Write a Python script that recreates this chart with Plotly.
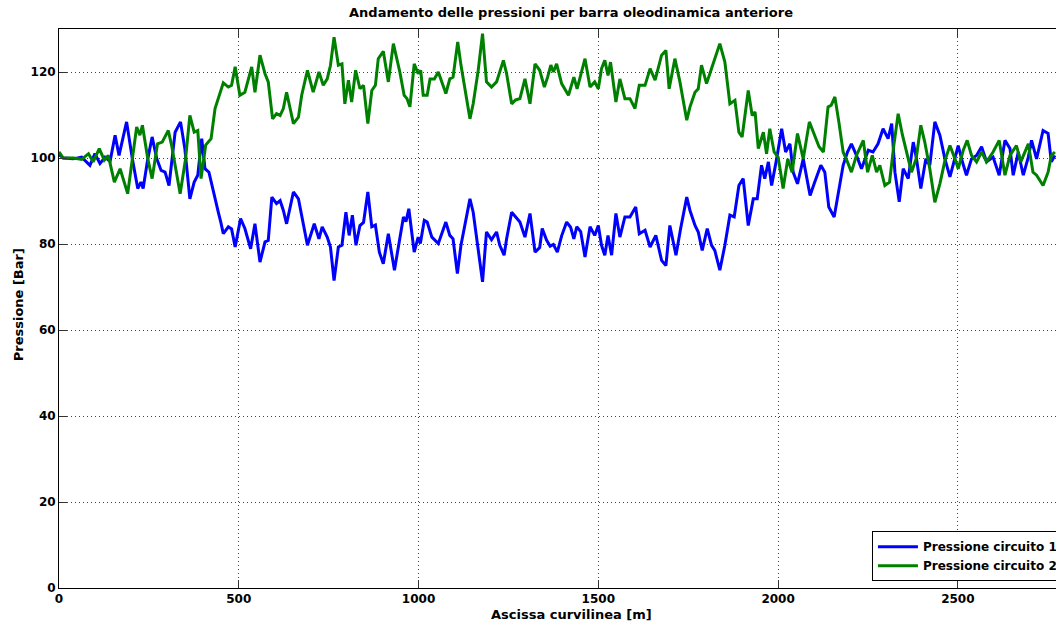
import plotly.graph_objects as go

# Ascissa curvilinea [m] and pressure [Bar] samples, circuit 1
dist_c1 = [0, 12, 40, 63, 86, 100, 114, 128, 142, 156, 167, 188, 204, 219, 228, 234, 247, 259, 272, 284,
           295, 306, 323, 338, 350, 364, 376, 386, 397, 406, 417, 429, 443, 450, 457, 471, 480, 490, 505, 517,
           533, 545, 559, 573, 582, 592, 605, 615, 624, 633, 652, 666, 675, 691, 710, 723, 732, 746, 755, 765,
           777, 787, 798, 807, 816, 826, 837, 847, 859, 870, 880, 891, 902, 916, 933, 945, 958, 965, 973, 981,
           988, 999, 1005, 1016, 1024, 1037, 1055, 1076, 1087, 1096, 1108, 1118, 1129, 1143, 1152, 1166, 1178, 1189, 1203, 1217,
           1226, 1238, 1245, 1259, 1270, 1282, 1296, 1310, 1324, 1337, 1344, 1356, 1366, 1375, 1386, 1398, 1412, 1423, 1432, 1440,
           1451, 1463, 1477, 1490, 1500, 1509, 1518, 1527, 1537, 1549, 1560, 1574, 1588, 1604, 1614, 1630, 1644, 1660, 1676, 1688,
           1699, 1716, 1729, 1746, 1755, 1769, 1778, 1789, 1803, 1815, 1824, 1838, 1852, 1866, 1878, 1891, 1903, 1917, 1931, 1942,
           1954, 1963, 1973, 1982, 1996, 2010, 2021, 2033, 2042, 2054, 2070, 2089, 2102, 2119, 2130, 2141, 2156, 2167, 2181, 2193,
           2204, 2218, 2232, 2251, 2264, 2278, 2292, 2306, 2316, 2325, 2337, 2348, 2362, 2376, 2385, 2397, 2411, 2422, 2436, 2450,
           2464, 2478, 2492, 2501, 2513, 2524, 2538, 2552, 2566, 2580, 2598, 2615, 2631, 2645, 2654, 2668, 2682, 2696, 2705, 2719,
           2737, 2751, 2760, 2770]
press_c1 = [100.8, 100, 99.8, 100.2, 98.3, 101, 98.7, 100.2, 99.2, 105.3, 100.6, 108.4, 99.8, 92.9, 94.4, 92.9, 99.8, 104.9, 99.8, 97.1,
            96.7, 93.6, 106, 108.4, 102.2, 90.5, 94.4, 96, 104.5, 97.5, 96.7, 92.1, 87.4, 85.1, 82.4, 84, 83.5, 79.3, 85.9, 83.6,
            78.9, 84.7, 75.8, 80.5, 80.8, 90.9, 89.4, 90.1, 87.8, 84.7, 92.1, 90.5, 86.3, 79.7, 84.7, 81.2, 84, 81.6, 79.3, 71.5,
            79.3, 79.7, 87.4, 82, 86.7, 79.7, 84.3, 85, 92.1, 84, 84.4, 78.1, 75.4, 82.4, 73.9, 79.5, 86.3, 85.2, 88.2, 82.8,
            78.1, 81.6, 80.1, 85.5, 85.1, 81.6, 80.1, 85.1, 82, 81.2, 73.1, 79.7, 84.3, 90.5, 87.4, 78.1, 71.2, 82.8, 81, 82.8,
            79.7, 77.4, 81.2, 87.4, 86.3, 85.1, 81.6, 87.1, 78.1, 79.2, 83.6, 80.9, 79.5, 79.9, 78.1, 81.9, 85.1, 83.9, 81.2, 84,
            82.9, 77, 84, 82, 84.3, 79.7, 77.4, 82, 77.4, 87.1, 81.6, 86.3, 86.3, 88.6, 82.4, 83.2, 79.3, 82, 76.2, 75,
            84.3, 77.4, 83.6, 90.9, 87.8, 84.3, 82.8, 78.5, 83.6, 79.7, 78.5, 73.9, 79.7, 86.7, 86.3, 93.6, 95.2, 84.3, 90.5, 90.5,
            98.3, 95.2, 99.1, 93.6, 99.8, 106.8, 101.4, 103.3, 96.7, 94, 99.8, 91.3, 94.4, 98.3, 96.7, 88.6, 86.3, 91.3, 98.3, 101.4,
            103.3, 100.6, 97.5, 101.8, 101.4, 103.3, 106.8, 104.5, 108, 96.7, 89.8, 97.5, 95.2, 103.7, 99.8, 92.9, 99.8, 98.3, 108.4, 105.3,
            99.8, 95.6, 99.8, 102.9, 99, 96, 99.8, 100.6, 102.6, 99.1, 100.2, 96, 104.1, 102.2, 96, 101.4, 96, 100.2, 104.1, 99.8,
            106.4, 105.7, 99.1, 100.6]

# Ascissa curvilinea [m] and pressure [Bar] samples, circuit 2
dist_c2 = [0, 12, 40, 63, 82, 95, 112, 126, 137, 154, 170, 191, 204, 216, 225, 232, 247, 259, 274, 287,
           304, 313, 337, 352, 364, 376, 386, 395, 408, 423, 434, 445, 457, 471, 480, 490, 503, 517, 536, 545,
           559, 573, 582, 594, 605, 615, 624, 633, 652, 666, 675, 691, 707, 723, 735, 746, 755, 765, 777, 787,
           795, 805, 814, 825, 837, 847, 859, 870, 880, 888, 902, 916, 930, 948, 960, 968, 976, 988, 999, 1006,
           1013, 1024, 1032, 1044, 1055, 1076, 1087, 1096, 1109, 1118, 1131, 1143, 1152, 1166, 1178, 1189, 1203, 1217, 1236, 1245,
           1259, 1270, 1282, 1296, 1310, 1324, 1337, 1350, 1359, 1368, 1375, 1384, 1398, 1417, 1432, 1441, 1463, 1477, 1490, 1500,
           1509, 1518, 1527, 1534, 1549, 1560, 1574, 1588, 1602, 1614, 1630, 1644, 1658, 1676, 1688, 1697, 1713, 1727, 1746, 1755,
           1769, 1778, 1787, 1801, 1815, 1824, 1838, 1852, 1866, 1880, 1891, 1900, 1917, 1928, 1936, 1945, 1959, 1968, 1977, 1989,
           2000, 2007, 2014, 2027, 2039, 2054, 2070, 2087, 2100, 2114, 2126, 2139, 2148, 2158, 2169, 2181, 2193, 2204, 2218, 2237,
           2249, 2262, 2274, 2283, 2297, 2310, 2322, 2334, 2346, 2358, 2371, 2384, 2397, 2408, 2422, 2436, 2450, 2464, 2478, 2492,
           2501, 2515, 2526, 2538, 2552, 2566, 2580, 2598, 2615, 2631, 2645, 2663, 2675, 2696, 2709, 2719, 2737, 2751, 2760, 2770]
press_c2 = [101.4, 100, 100, 99.7, 101, 99.1, 102.2, 99.5, 100.6, 94.4, 97.5, 91.7, 99.8, 107.2, 105.3, 107.6, 99.8, 95.2, 103.3, 103.7,
            106.4, 103, 91.7, 99.8, 109.9, 106, 106.4, 95.2, 103, 104.5, 111.5, 114.6, 117.5, 116.5, 116.9, 121.2, 114.6, 115.3, 121.2, 115.3,
            123.9, 119.6, 117.7, 109.1, 110.3, 109.9, 111.5, 115.3, 108, 109.5, 114.6, 120.4, 115.3, 120, 116.9, 118.4, 121.5, 128.1, 121.6, 121.9,
            112.6, 118.1, 113, 120.4, 116.1, 116.9, 108, 115.7, 116.9, 123.1, 124.8, 117.7, 126.6, 120, 114.6, 113.8, 111.9, 121.9, 119.6, 120.4,
            114.6, 114.6, 118.4, 118.4, 120, 115, 118.4, 118.8, 127, 121.6, 115.3, 109.1, 112.6, 120.4, 128.9, 117.7, 116.5, 117.7, 122.7, 119.6,
            112.6, 113.5, 113.8, 118.4, 112.6, 121.9, 120.4, 116.5, 118.8, 121.6, 120, 121.9, 117.3, 114.6, 118.8, 116.1, 123.1, 116.5, 117.7, 116.1,
            120.8, 122.7, 119.2, 122.3, 113, 118.4, 113.8, 113.8, 111.5, 116.9, 116.9, 120.8, 118.1, 123.9, 125, 116.1, 123.1, 117.7, 108.8, 111.9,
            115.3, 116.1, 121.6, 117.3, 120.8, 123.1, 126.6, 122.3, 112.6, 113.4, 106, 104.9, 115.7, 109.9, 110.7, 102.2, 106, 101, 106.8, 101.4,
            100.2, 96.7, 92.9, 99.8, 96.7, 105.7, 99.8, 108.4, 105.7, 102.6, 101.4, 111.9, 112.3, 114.2, 108.4, 101.4, 99.1, 96.7, 100.6, 104.1,
            96.7, 100.6, 96.7, 98.3, 93.6, 94.4, 103, 110.3, 105.3, 101.4, 96.7, 99.8, 107.6, 103.7, 97.5, 89.7, 94, 99.4, 102.9, 99.8,
            97.5, 101.8, 104.1, 100.6, 99.1, 101.4, 99.1, 101.4, 104.1, 96, 100.6, 102.9, 99.1, 103.3, 96.7, 96, 93.6, 96.7, 100.6, 101.4]

x_ticks = [0, 500, 1000, 1500, 2000, 2500]
y_ticks = [0, 20, 40, 60, 80, 100, 120]

FONT = "DejaVu Sans"

fig = go.Figure()
fig.add_trace(go.Scatter(x=dist_c1, y=press_c1, mode="lines", name="Pressione circuito 1",
                         line=dict(color="#0000ff", width=3)))
fig.add_trace(go.Scatter(x=dist_c2, y=press_c2, mode="lines", name="Pressione circuito 2",
                         line=dict(color="#008000", width=3)))

axis_common = dict(
    showline=True, linecolor="black", linewidth=1,
    ticks="inside", ticklen=8, tickcolor="#333333", tickwidth=1,
    showgrid=True, gridcolor="#444444", gridwidth=1, griddash="1px,3px",
    zeroline=False, tickfont=dict(family=FONT, size=12, color="black", weight="bold"),
)

fig.update_xaxes(range=[0, 2773], tickvals=x_ticks, mirror="ticks", **axis_common)
fig.update_yaxes(range=[0, 130], tickvals=y_ticks, mirror=False, **axis_common)

fig.update_layout(
    width=1056, height=626,
    margin=dict(l=59, r=0, t=29, b=38, autoexpand=False),
    paper_bgcolor="white", plot_bgcolor="white",
    font=dict(family=FONT, color="black"),
    title=dict(text="Andamento delle pressioni per barra oleodinamica anteriore",
               x=571 / 1056, xref="container", xanchor="center",
               y=1 - 12 / 626, yref="container", yanchor="middle",
               font=dict(family=FONT, size=13, color="black", weight="bold")),
    legend=dict(x=0.8154, y=0.012, xanchor="left", yanchor="bottom",
                bgcolor="white", bordercolor="black", borderwidth=1,
                font=dict(family=FONT, size=12, color="black", weight="bold"),
                tracegroupgap=0, itemwidth=40),
    showlegend=True,
    annotations=[
        dict(text="Ascissa curvilinea [m]", xref="paper", yref="paper",
             x=(571 - 59) / 997, y=-(614 - 587.7) / 559, xanchor="center", yanchor="middle",
             showarrow=False, font=dict(family=FONT, size=13, color="black", weight="bold")),
        dict(text="Pressione [Bar]", xref="paper", yref="paper", textangle=-90,
             x=(18 - 59) / 997, y=(587.7 - 305) / 559, xanchor="center", yanchor="middle",
             showarrow=False, font=dict(family=FONT, size=13, color="black", weight="bold")),
    ],
)

fig.write_html("out.html", config={"displayModeBar": False})
